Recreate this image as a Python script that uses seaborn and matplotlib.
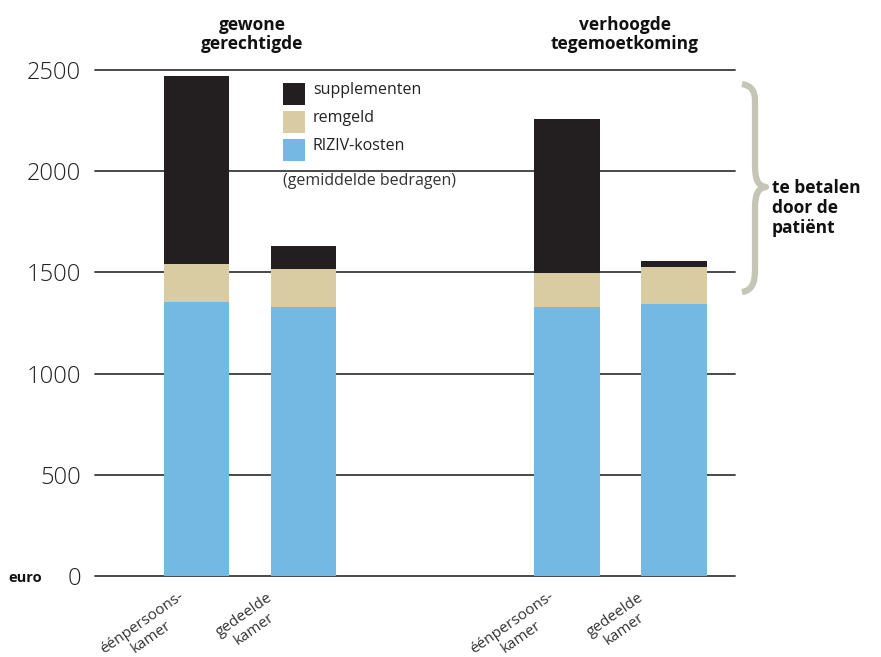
import numpy as np
import pandas as pd
import matplotlib
matplotlib.use("Agg")
import matplotlib.pyplot as plt
from matplotlib.patches import Rectangle, PathPatch
from matplotlib.path import Path
import seaborn as sns

# Average hospital stay costs (euro) per room type and patient status
groups = ["gewone\ngerechtigde", "verhoogde\ntegemoetkoming"]
rooms = ["éénpersoons-\nkamer", "gedeelde\nkamer",
         "éénpersoons-\nkamer", "gedeelde\nkamer"]
riziv = [1354, 1329, 1329, 1344]
remgeld = [187, 188, 168, 183]
supplementen = [929, 113, 761, 29]
positions = [0.0, 1.0, 3.46, 4.46]

series_names = ["supplementen", "remgeld", "RIZIV-kosten"]
colors = {"supplementen": "#231f20", "remgeld": "#d9cca3", "RIZIV-kosten": "#74b8e4"}
yticks = [0, 500, 1000, 1500, 2000, 2500]

sns.set_style("white")
plt.rcParams["font.family"] = ["Open Sans", "DejaVu Sans"]

df = pd.DataFrame({"pos": positions, "riziv": riziv,
                   "remgeld": remgeld, "supplementen": supplementen})
df["lvl_remgeld"] = df["riziv"] + df["remgeld"]
df["lvl_totaal"] = df["lvl_remgeld"] + df["supplementen"]

W, H = 881, 657
fig = plt.figure(figsize=(W / 100, H / 100), dpi=100)
ax = fig.add_axes([95 / W, 81 / H, 640 / W, 506 / H])

# gridlines behind the bars
for t in yticks:
    ax.axhline(t, color="#3a3a3a", lw=1.3, zorder=0, clip_on=False)

# stacked bars: draw the cumulative totals from back to front
for col, name in [("lvl_totaal", "supplementen"),
                  ("lvl_remgeld", "remgeld"),
                  ("riziv", "RIZIV-kosten")]:
    sns.barplot(data=df, x="pos", y=col, native_scale=True, width=0.61,
                color=colors[name], saturation=1, linewidth=0, ax=ax, zorder=2)

ax.set_xlim(-0.95, 5.03)
ax.set_ylim(0, 2500)
ax.set_yticks(yticks)
ax.set_yticklabels([str(t) for t in yticks], fontsize=17, fontweight="light",
                   color="#222222")
ax.tick_params(axis="y", length=0, pad=10)
ax.set_xticks([])
ax.set_xlabel("")
ax.set_ylabel("")
for s in ax.spines.values():
    s.set_visible(False)

# rotated category labels under each bar, one line at a time
angle = 35
step = 17  # line spacing in pixels, perpendicular to the text direction
perp = (step * np.sin(np.radians(angle)), step * np.cos(np.radians(angle)))
for p, lab in zip(positions, rooms):
    first, second = lab.split("\n")
    off = (-55, 47) if first.startswith("é") else (-59, 39)
    for k, line in enumerate([first, second]):
        dx = off[0] + k * perp[0]
        dy = off[1] + k * perp[1]
        ax.annotate(line, xy=(p, 0), xycoords=("data", "axes fraction"),
                    xytext=(dx * 0.72, -dy * 0.72), textcoords="offset points",
                    rotation=angle, rotation_mode="anchor", ha="center",
                    va="center", fontsize=11, color="#333333",
                    annotation_clip=False)

# group headings
for cx, g in zip([252, 625], groups):
    fig.text(cx / W, 1 - 16 / H, g, ha="center", va="top", fontsize=12.5,
             fontweight="bold", color="#111111", linespacing=1.1)

# legend
for i, name in enumerate(series_names):
    y0 = 83 + i * 28
    fig.patches.append(Rectangle((283 / W, 1 - (y0 + 22) / H), 22 / W, 22 / H,
                                 transform=fig.transFigure,
                                 facecolor=colors[name], edgecolor="none"))
    fig.text(313 / W, 1 - (y0 + 7) / H, name, ha="left", va="center",
             fontsize=11.5, color="#222222")
fig.text(283 / W, 1 - 181 / H, "(gemiddelde bedragen)", ha="left",
         va="center", fontsize=11.5, color="#333333")

fig.text(8 / W, 1 - 578 / H, "euro", ha="left", va="center", fontsize=10.5,
         fontweight="bold", color="#111111")

# curly brace for the out-of-pocket part
def px(x, y):
    return (x / W, 1 - y / H)

verts = [px(742, 84), px(755, 86), px(755, 100), px(755, 112),
         px(755, 165), px(755, 180), px(758, 186), px(766, 187),
         px(758, 188), px(755, 194), px(755, 209),
         px(755, 266), px(755, 278), px(755, 290), px(742, 292)]
codes = [Path.MOVETO, Path.CURVE3, Path.CURVE3, Path.LINETO,
         Path.LINETO, Path.CURVE4, Path.CURVE4, Path.CURVE4,
         Path.CURVE4, Path.CURVE4, Path.CURVE4,
         Path.LINETO, Path.CURVE4, Path.CURVE4, Path.CURVE4]
brace = PathPatch(Path(verts, codes), transform=fig.transFigure,
                  facecolor="none", edgecolor="#c4c5b5", lw=4.5,
                  capstyle="butt", joinstyle="round")
fig.patches.append(brace)

fig.text(772 / W, 1 - 208 / H, "te betalen\ndoor de\npatiënt", ha="left",
         va="center", fontsize=12.5, fontweight="bold", color="#111111",
         linespacing=1.15)

fig.savefig("out.png", dpi=100, facecolor="white")
